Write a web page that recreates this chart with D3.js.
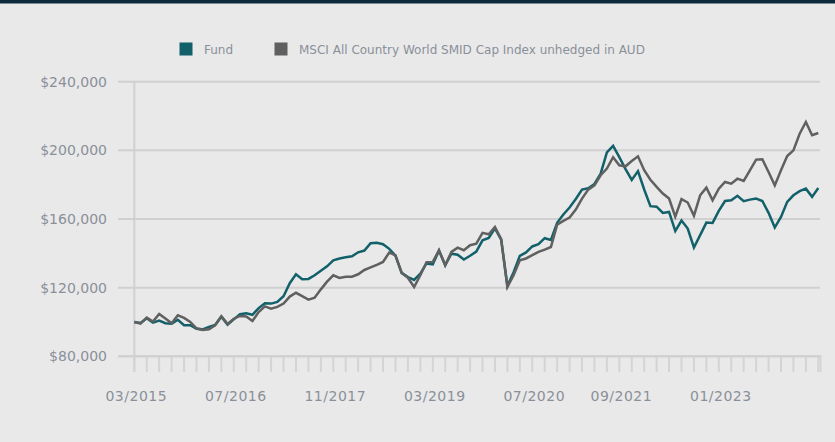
<!DOCTYPE html>
<html>
<head>
<meta charset="utf-8">
<script src="https://cdn.jsdelivr.net/npm/d3@7"></script>
<style>
  body { margin: 0; background: #e9e9e9; }
  svg { display: block; font-family: "DejaVu Sans", Verdana, sans-serif; }
</style>
</head>
<body>
<svg width="835" height="442"></svg>
<script>
// Valori del grafico (crescita di $100,000)
const seriesNames = ["Fund", "MSCI All Country World SMID Cap Index unhedged in AUD"];
const seriesColors = ["#12616a", "#606060"];

const fundValues = [
  100000, 99400, 102200, 99600, 100800, 99300, 99000, 101300, 98100, 98100,
  96100, 95700, 97100, 98300, 103100, 98400, 101500, 104500, 105100, 104200,
  108100, 110900, 110700, 111700, 115000, 122600, 127800, 124900, 125100, 127200,
  129900, 132400, 135900, 137000, 137700, 138300, 140600, 141600, 145900, 146200,
  145300, 142600, 138700, 128600, 126200, 124500, 128200, 134100, 133500, 141600,
  133100, 139800, 139200, 136400, 138600, 141000, 147600, 148900, 154500, 148000,
  121000, 129000, 138500, 140500, 144000, 145300, 148800, 147800, 157800, 162600,
  166700, 171700, 177100, 177900, 180400, 186400, 198800, 202600, 196000, 189100,
  182800, 187900, 177200, 167500, 167200, 163500, 164100, 153000, 159100, 154400,
  143400, 150600, 157900, 157700, 164700, 170500, 170900, 173500, 170400, 171300,
  171900, 170500, 163600, 155000, 161200, 170000, 173800, 176200, 177700, 172900,
  178100
];

const indexValues = [
  100000, 99000, 102500, 100200, 104700, 102000, 99300, 103900, 102400, 100000,
  96300, 95300, 95700, 98100, 103300, 98900, 101900, 103500, 103200, 100600,
  105800, 109100, 107800, 108800, 110700, 114800, 117000, 115100, 113000, 114100,
  119000, 123500, 127200, 125700, 126400, 126400, 127800, 130300, 131800, 133300,
  135000, 140500, 138800, 128600, 125800, 120400, 127200, 134800, 135000, 141800,
  133000, 140800, 143300, 141800, 144700, 145600, 151900, 151100, 155400, 148300,
  120400, 127200, 136000, 137000, 138900, 140800, 142200, 143700, 156700, 158900,
  160800, 165500, 171900, 177100, 179600, 185500, 189400, 196000, 191300, 190700,
  193800, 196500, 188400, 182900, 178700, 174800, 171900, 161400, 171600, 169600,
  161900, 173800, 178300, 170900, 177700, 181600, 180600, 183500, 182200, 188400,
  194600, 194800, 187400, 179600, 188400, 196700, 200000, 209700, 216500, 208800,
  210100
];

// mesi da 03/2015 a 05/2024
const months = [];
for (let i = 0; i < fundValues.length; i++) {
  const m = (2 + i) % 12 + 1;
  const y = 2015 + Math.floor((2 + i) / 12);
  months.push((m < 10 ? "0" + m : "" + m) + "/" + y);
}
const xTickLabels = ["03/2015", "07/2016", "11/2017", "03/2019", "07/2020", "09/2021", "01/2023"];
const yTicks = [80000, 120000, 160000, 200000, 240000];

const svg = d3.select("svg");
const textColor = "#8a9099";
const gridColor = "#d0d0d0";

svg.append("rect").attr("width", 835).attr("height", 3.5).attr("fill", "#0c2a3d");

const x = d3.scalePoint().domain(months).range([134.3, 818.3]);
const y = d3.scaleLinear().domain([80000, 240000]).range([356.3, 81.7]);

// griglia orizzontale
svg.append("g")
  .selectAll("line")
  .data(yTicks)
  .join("line")
  .attr("x1", 118)
  .attr("x2", 820)
  .attr("y1", (d) => y(d))
  .attr("y2", (d) => y(d))
  .attr("stroke", gridColor)
  .attr("stroke-width", 2);

// etichette asse y
svg.append("g")
  .selectAll("text")
  .data(yTicks)
  .join("text")
  .attr("x", 107)
  .attr("y", (d) => y(d))
  .attr("dy", "0.35em")
  .attr("text-anchor", "end")
  .attr("font-size", 14)
  .attr("fill", textColor)
  .text((d) => "$" + d3.format(",")(d));

// asse y verticale
svg.append("line")
  .attr("x1", 134.3).attr("x2", 134.3)
  .attr("y1", 81).attr("y2", 372)
  .attr("stroke", gridColor).attr("stroke-width", 2);

// asse x
svg.append("line")
  .attr("x1", 118).attr("x2", 821.5)
  .attr("y1", y(80000)).attr("y2", y(80000))
  .attr("stroke", gridColor).attr("stroke-width", 2);

const tickMonths = months.filter((d, i) => i % 2 === 0);
svg.append("g")
  .selectAll("line")
  .data(tickMonths)
  .join("line")
  .attr("x1", (d) => x(d))
  .attr("x2", (d) => x(d))
  .attr("y1", 357)
  .attr("y2", 372)
  .attr("stroke", "#d4d4d4")
  .attr("stroke-width", 2);
svg.append("line")
  .attr("x1", 820.5).attr("x2", 820.5)
  .attr("y1", 357).attr("y2", 372)
  .attr("stroke", "#d4d4d4").attr("stroke-width", 2);

svg.append("g")
  .selectAll("text")
  .data(xTickLabels)
  .join("text")
  .attr("x", (d) => x(d) + 2)
  .attr("y", 400.5)
  .attr("text-anchor", "middle")
  .attr("font-size", 14)
  .attr("letter-spacing", 0.5)
  .attr("fill", textColor)
  .text((d) => d);

// linee
const line = d3.line()
  .x((d, i) => x(months[i]))
  .y((d) => y(d));

[fundValues, indexValues].forEach((vals, k) => {
  svg.append("path")
    .datum(vals)
    .attr("fill", "none")
    .attr("stroke", seriesColors[k])
    .attr("stroke-width", 2.5)
    .attr("d", line);
});

// legenda
const legendX = [179.5, 274.5];
seriesNames.forEach((name, k) => {
  svg.append("rect")
    .attr("x", legendX[k]).attr("y", 42.5)
    .attr("width", 13).attr("height", 13)
    .attr("fill", seriesColors[k]);
  svg.append("text")
    .attr("x", legendX[k] + 24.5)
    .attr("y", 53.5)
    .attr("font-size", 12)
    .attr("fill", textColor)
    .text(name);
});
</script>
</body>
</html>
